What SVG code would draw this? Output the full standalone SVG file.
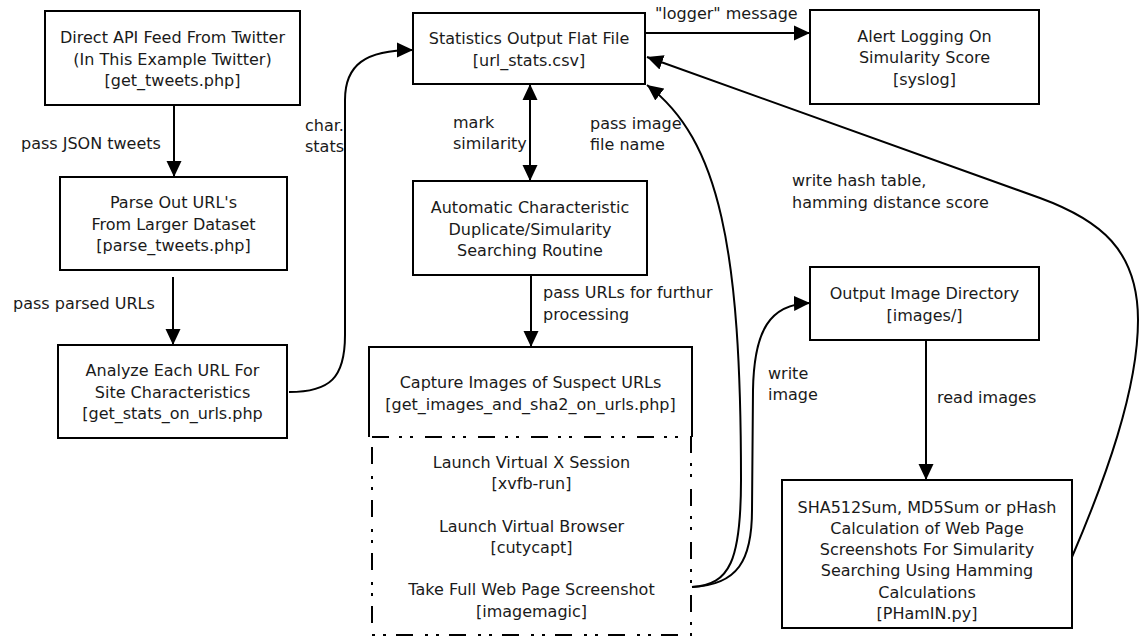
<svg xmlns="http://www.w3.org/2000/svg" width="1139" height="638" viewBox="0 0 1139 638">
<defs>
<marker id="ah" markerUnits="userSpaceOnUse" markerWidth="16" markerHeight="16" refX="16" refY="8" orient="auto-start-reverse" viewBox="0 0 16 16">
<path d="M0,0.5 L16,8 L0,15.5 z" fill="#000"/>
</marker>
<style>
.box{fill:#fff;stroke:#000;stroke-width:2}
.t{font-family:"DejaVu Sans",sans-serif;font-size:16px;fill:#1a1a1a;text-anchor:middle}
.l{font-family:"DejaVu Sans",sans-serif;font-size:16px;fill:#1a1a1a;text-anchor:start}
.c{fill:none;stroke:#000;stroke-width:2}
.a{marker-end:url(#ah)}
.dd{fill:none;stroke:#000;stroke-width:2;stroke-dasharray:17 10 3 8 3 12}
</style>
</defs>
<rect width="1139" height="638" fill="#fff"/>

<g id="connectors">
<path class="c a" d="M174,105 L174,177"/>
<path class="c a" d="M173,277 L173,345"/>
<path class="c a" d="M289,392 C330,392 345,378 345,335 L345,100 C345,65 365,50 413,50"/>
<path class="c a" d="M645,33 L810,33"/>
<path class="c" d="M530,84 L530,181" marker-start="url(#ah)" marker-end="url(#ah)"/>
<path class="c a" d="M531,275 L531,347"/>
<path class="c a" d="M692,587 C730,585 741,560 741,480 C741,250 720,140 647,85"/>
<path class="c a" d="M692,587 C738,585 752,560 752,510 L753,390 C754,330 770,304 810,303"/>
<path class="c a" d="M1072,557 C1105,480 1138,390 1138,320 C1138,250 1100,220 1040,198 L647,57"/>
<path class="c a" d="M926,340 L926,480"/>
</g>

<g id="labels">
<text class="l" x="21" y="148.5">pass JSON tweets</text>
<text class="l" x="305" y="130.5">char.</text>
<text class="l" x="305" y="152">stats</text>
<text class="l" x="13" y="309">pass parsed URLs</text>
<text class="l" x="453" y="127.5">mark</text>
<text class="l" x="453" y="149">similarity</text>
<text class="l" x="590" y="128.5">pass image</text>
<text class="l" x="590" y="150">file name</text>
<text class="l" x="655" y="19">"logger" message</text>
<text class="l" x="543" y="298">pass URLs for furthur</text>
<text class="l" x="543" y="319.5">processing</text>
<text class="l" x="792" y="186">write hash table,</text>
<text class="l" x="792" y="207.5">hamming distance score</text>
<text class="l" x="768" y="378.5">write</text>
<text class="l" x="768" y="400">image</text>
<text class="l" x="937" y="402.5">read images</text>
</g>

<g id="node-twitter">
<rect class="box" x="45" y="11" width="255" height="94"/>
<text class="t" x="172.5" y="43">Direct API Feed From Twitter</text>
<text class="t" x="172.5" y="64.5">(In This Example Twitter)</text>
<text class="t" x="172.5" y="86">[get_tweets.php]</text>
</g>

<g id="node-parse">
<rect class="box" x="60" y="177" width="227" height="93"/>
<text class="t" x="173.5" y="208">Parse Out URL's</text>
<text class="t" x="173.5" y="229.5">From Larger Dataset</text>
<text class="t" x="173.5" y="251">[parse_tweets.php]</text>
</g>

<g id="node-analyze">
<rect class="box" x="58" y="345" width="229" height="93"/>
<text class="t" x="172.5" y="376">Analyze Each URL For</text>
<text class="t" x="172.5" y="397.5">Site Characteristics</text>
<text class="t" x="172.5" y="419">[get_stats_on_urls.php</text>
</g>

<g id="node-stats">
<rect class="box" x="413" y="13" width="232" height="71"/>
<text class="t" x="529" y="44">Statistics Output Flat File</text>
<text class="t" x="529" y="65.5">[url_stats.csv]</text>
</g>

<g id="node-alert">
<rect class="box" x="810" y="10" width="229" height="94"/>
<text class="t" x="924.5" y="41.5">Alert Logging On</text>
<text class="t" x="924.5" y="63">Simularity Score</text>
<text class="t" x="924.5" y="84.5">[syslog]</text>
</g>

<g id="node-auto">
<rect class="box" x="413" y="181" width="234" height="94"/>
<text class="t" x="530" y="213">Automatic Characteristic</text>
<text class="t" x="530" y="234.5">Duplicate/Simularity</text>
<text class="t" x="530" y="256">Searching Routine</text>
</g>

<g id="node-capture">
<path class="box" d="M369,437 L369,347 L692,347 L692,437" fill="#fff"/>
<rect class="dd" x="372" y="437" width="319" height="198"/>
<text class="t" x="530.5" y="388">Capture Images of Suspect URLs</text>
<text class="t" x="530.5" y="409.5">[get_images_and_sha2_on_urls.php]</text>
<text class="t" x="531.5" y="467.5">Launch Virtual X Session</text>
<text class="t" x="531.5" y="489">[xvfb-run]</text>
<text class="t" x="531.5" y="531.5">Launch Virtual Browser</text>
<text class="t" x="531.5" y="553">[cutycapt]</text>
<text class="t" x="531.5" y="595">Take Full Web Page Screenshot</text>
<text class="t" x="531.5" y="616.5">[imagemagic]</text>
</g>

<g id="node-images">
<rect class="box" x="810" y="267" width="229" height="73"/>
<text class="t" x="924.5" y="299">Output Image Directory</text>
<text class="t" x="924.5" y="320.5">[images/]</text>
</g>

<g id="node-phash">
<rect class="box" x="782" y="480" width="290" height="148"/>
<text class="t" x="927" y="512.5">SHA512Sum, MD5Sum or pHash</text>
<text class="t" x="927" y="533.8">Calculation of Web Page</text>
<text class="t" x="927" y="555.1">Screenshots For Simularity</text>
<text class="t" x="927" y="576.4">Searching Using Hamming</text>
<text class="t" x="927" y="597.7">Calculations</text>
<text class="t" x="927" y="619">[PHamIN.py]</text>
</g>
</svg>
